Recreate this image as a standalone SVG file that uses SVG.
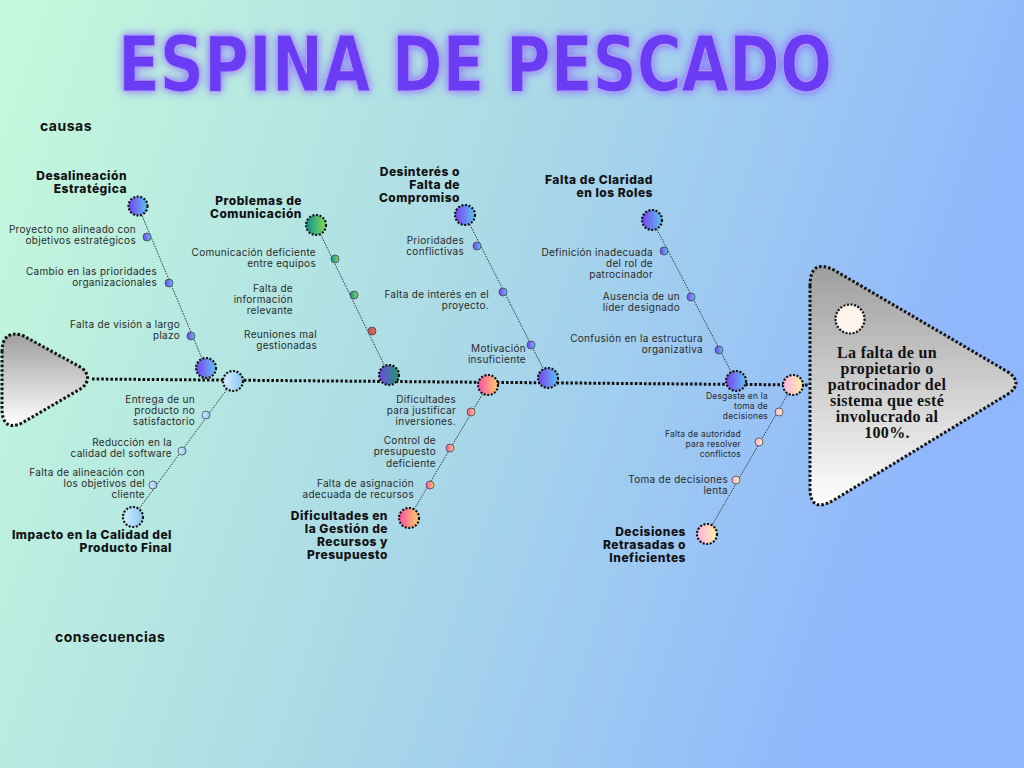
<svg xmlns="http://www.w3.org/2000/svg" width="1024" height="768" viewBox="0 0 1024 768">
<defs>
<linearGradient id="bg" x1="0" y1="0" x2="1" y2="0.25">
<stop offset="0" stop-color="#c5fadb"/>
<stop offset="0.5" stop-color="#acdbe6"/>
<stop offset="1" stop-color="#8fb6fe"/>
</linearGradient>
<linearGradient id="grey" x1="0" y1="0" x2="0" y2="1">
<stop offset="0" stop-color="#9e9e9e"/>
<stop offset="1" stop-color="#ffffff"/>
</linearGradient>
<linearGradient id="gPB" x1="0" y1="0" x2="1" y2="0"><stop offset="0" stop-color="#7a3ff0"/><stop offset="1" stop-color="#5cc4f4"/></linearGradient>
<linearGradient id="gTG" x1="0" y1="0" x2="1" y2="0"><stop offset="0" stop-color="#0e8e8e"/><stop offset="1" stop-color="#86dd55"/></linearGradient>
<linearGradient id="gPG" x1="0" y1="0" x2="1" y2="0"><stop offset="0" stop-color="#7345e6"/><stop offset="1" stop-color="#1f9a6a"/></linearGradient>
<linearGradient id="gLB" x1="0" y1="0" x2="1" y2="0"><stop offset="0" stop-color="#d6efff"/><stop offset="1" stop-color="#8cc6f2"/></linearGradient>
<linearGradient id="gPO" x1="0" y1="0" x2="1" y2="0"><stop offset="0" stop-color="#ff4fa6"/><stop offset="1" stop-color="#ffcf68"/></linearGradient>
<linearGradient id="gPY" x1="0" y1="0" x2="1" y2="0"><stop offset="0" stop-color="#ffb0e2"/><stop offset="1" stop-color="#fff0a8"/></linearGradient>
<linearGradient id="gRed" x1="0" y1="0" x2="1" y2="0"><stop offset="0" stop-color="#c84f55"/><stop offset="1" stop-color="#e06a60"/></linearGradient>
<filter id="glow" x="-10%" y="-40%" width="120%" height="180%">
<feGaussianBlur in="SourceAlpha" stdDeviation="5" result="b"/>
<feFlood flood-color="#7b4dff" flood-opacity="0.8"/>
<feComposite in2="b" operator="in" result="g"/>
<feMerge><feMergeNode in="g"/><feMergeNode in="SourceGraphic"/></feMerge>
</filter>
<style>
.big{stroke:#111;stroke-width:2.2;stroke-dasharray:2 1.6}
.sm{stroke:#445;stroke-width:0.8}
.bone{stroke:#333;stroke-width:1;stroke-dasharray:1.5 1.2;fill:none}
.spine{stroke:#111;stroke-width:3;stroke-dasharray:2.6 2;fill:none}
.shape{stroke:#111;stroke-width:3;stroke-dasharray:2.6 2}
.t{font-family:Inter,"Noto Sans",sans-serif;font-weight:800;font-size:12px;letter-spacing:0.5px;fill:#111;text-anchor:end}
.l{font-family:Inter,"Noto Sans",sans-serif;font-weight:400;font-size:10px;letter-spacing:0.3px;fill:#2a2a2a;text-anchor:end}
.ls{font-family:Inter,"Noto Sans",sans-serif;font-weight:400;font-size:8.5px;letter-spacing:0.2px;fill:#2a2a2a;text-anchor:end}
.sec{font-family:Inter,"Noto Sans",sans-serif;font-weight:700;font-size:14px;letter-spacing:0.5px;fill:#111}
</style>
</defs>
<rect width="1024" height="768" fill="url(#bg)"/>
<text x="475" y="91" text-anchor="middle" font-family="'DejaVu Sans',sans-serif" font-weight="bold" font-size="76" textLength="714" lengthAdjust="spacingAndGlyphs" fill="#6b3cf4" stroke="#b49bff" stroke-width="1.2" filter="url(#glow)">ESPINA DE PESCADO</text>
<text class="sec" x="40" y="131">causas</text>
<text class="sec" x="55" y="642">consecuencias</text>

<g id="head-left">
<path class="shape" d="M 2 352 Q 2 330 22 335 L 82 368 Q 93 378 82 388 L 22 423 Q 2 432 2 408 Z" fill="url(#grey)"/>
</g>

<g id="connectors">
<line class="spine" x1="92" y1="379" x2="808" y2="385"/>
<line class="bone" x1="138" y1="206" x2="206" y2="368"/>
<line class="bone" x1="316" y1="225" x2="389" y2="375"/>
<line class="bone" x1="465" y1="215" x2="548" y2="378"/>
<line class="bone" x1="652" y1="220" x2="736" y2="381"/>
<line class="bone" x1="233" y1="381" x2="133" y2="517"/>
<line class="bone" x1="488" y1="385" x2="409" y2="518"/>
<line class="bone" x1="793" y1="385" x2="707" y2="534"/>
</g>

<g id="effect">
<path class="shape" d="M 810 286 Q 810 258 834 270 L 1008 372 Q 1024 383 1008 394 L 834 500 Q 810 514 810 488 Z" fill="url(#grey)"/>
<circle class="big" cx="850" cy="319" r="14.5" fill="#fff5ec" stroke-width="1.6"/>
<g font-family="'Liberation Serif',serif" font-weight="bold" font-size="16" letter-spacing="0.3" fill="#111" text-anchor="middle">
<text x="887" y="358">La falta de un</text>
<text x="887" y="374">propietario o</text>
<text x="887" y="390">patrocinador del</text>
<text x="887" y="406">sistema que esté</text>
<text x="887" y="422">involucrado al</text>
<text x="887" y="438">100%.</text>
</g>
</g>

<g id="desalineacion">
<circle class="big" cx="138" cy="206" r="9.5" fill="url(#gPB)"/>
<circle class="sm" cx="147" cy="237" r="4" fill="url(#gPB)"/>
<circle class="sm" cx="169" cy="283" r="4" fill="url(#gPB)"/>
<circle class="sm" cx="191" cy="336" r="4" fill="url(#gPB)"/>
<circle class="big" cx="206" cy="368" r="10" fill="url(#gPB)"/>
<text class="t" x="127" y="180">Desalineación</text>
<text class="t" x="127" y="193">Estratégica</text>
<text class="l" x="136" y="233">Proyecto no alineado con</text>
<text class="l" x="136" y="244">objetivos estratégicos</text>
<text class="l" x="157" y="275">Cambio en las prioridades</text>
<text class="l" x="157" y="286">organizacionales</text>
<text class="l" x="180" y="328">Falta de visión a largo</text>
<text class="l" x="180" y="339">plazo</text>
</g>

<g id="comunicacion">
<circle class="big" cx="316" cy="225" r="10" fill="url(#gTG)"/>
<circle class="sm" cx="335" cy="259" r="4" fill="url(#gTG)"/>
<circle class="sm" cx="354" cy="295" r="4" fill="url(#gTG)"/>
<circle class="sm" cx="372" cy="331" r="4" fill="url(#gRed)"/>
<circle class="big" cx="389" cy="375" r="10" fill="url(#gPG)"/>
<text class="t" x="302" y="205">Problemas de</text>
<text class="t" x="302" y="218">Comunicación</text>
<text class="l" x="316" y="256">Comunicación deficiente</text>
<text class="l" x="316" y="267">entre equipos</text>
<text class="l" x="293" y="292" text-anchor="middle">Falta de</text>
<text class="l" x="293" y="303" text-anchor="middle">información</text>
<text class="l" x="293" y="314" text-anchor="middle">relevante</text>
<text class="l" x="317" y="338" text-anchor="middle">Reuniones mal</text>
<text class="l" x="317" y="349" text-anchor="middle">gestionadas</text>
</g>

<g id="desinteres">
<circle class="big" cx="465" cy="215" r="10" fill="url(#gPB)"/>
<circle class="sm" cx="477" cy="246" r="4" fill="url(#gPB)"/>
<circle class="sm" cx="503" cy="292" r="4" fill="url(#gPB)"/>
<circle class="sm" cx="531" cy="345" r="4" fill="url(#gPB)"/>
<circle class="big" cx="548" cy="378" r="10" fill="url(#gPB)"/>
<text class="t" x="460" y="176">Desinterés o</text>
<text class="t" x="460" y="189">Falta de</text>
<text class="t" x="460" y="202">Compromiso</text>
<text class="l" x="464" y="244">Prioridades</text>
<text class="l" x="464" y="255">conflictivas</text>
<text class="l" x="489" y="298">Falta de interés en el</text>
<text class="l" x="489" y="309">proyecto.</text>
<text class="l" x="526" y="352">Motivación</text>
<text class="l" x="526" y="363">insuficiente</text>
</g>

<g id="claridad">
<circle class="big" cx="652" cy="220" r="10" fill="url(#gPB)"/>
<circle class="sm" cx="664" cy="251" r="4" fill="url(#gPB)"/>
<circle class="sm" cx="691" cy="297" r="4" fill="url(#gPB)"/>
<circle class="sm" cx="719" cy="350" r="4" fill="url(#gPB)"/>
<circle class="big" cx="736" cy="381" r="10" fill="url(#gPB)"/>
<text class="t" x="653" y="184">Falta de Claridad</text>
<text class="t" x="653" y="197">en los Roles</text>
<text class="l" x="653" y="256">Definición inadecuada</text>
<text class="l" x="653" y="267">del rol de</text>
<text class="l" x="653" y="278">patrocinador</text>
<text class="l" x="680" y="300">Ausencia de un</text>
<text class="l" x="680" y="311">líder designado</text>
<text class="l" x="703" y="342">Confusión en la estructura</text>
<text class="l" x="703" y="353">organizativa</text>
</g>

<g id="impacto">
<circle class="big" cx="233" cy="381" r="10" fill="url(#gLB)"/>
<circle class="sm" cx="206" cy="415" r="4" fill="url(#gLB)"/>
<circle class="sm" cx="182" cy="451" r="4" fill="url(#gLB)"/>
<circle class="sm" cx="153" cy="485" r="4" fill="url(#gLB)"/>
<circle class="big" cx="133" cy="517" r="10" fill="url(#gLB)"/>
<text class="t" x="172" y="539">Impacto en la Calidad del</text>
<text class="t" x="172" y="552">Producto Final</text>
<text class="l" x="195" y="403">Entrega de un</text>
<text class="l" x="195" y="414">producto no</text>
<text class="l" x="195" y="425">satisfactorio</text>
<text class="l" x="172" y="446">Reducción en la</text>
<text class="l" x="172" y="457">calidad del software</text>
<text class="l" x="145" y="476">Falta de alineación con</text>
<text class="l" x="145" y="487">los objetivos del</text>
<text class="l" x="145" y="498">cliente</text>
</g>

<g id="recursos">
<circle class="big" cx="488" cy="385" r="10" fill="url(#gPO)"/>
<circle class="sm" cx="471" cy="412" r="4" fill="url(#gPO)"/>
<circle class="sm" cx="450" cy="448" r="4" fill="url(#gPO)"/>
<circle class="sm" cx="430" cy="485" r="4" fill="url(#gPO)"/>
<circle class="big" cx="409" cy="518" r="10" fill="url(#gPO)"/>
<text class="t" x="388" y="520">Dificultades en</text>
<text class="t" x="388" y="533">la Gestión de</text>
<text class="t" x="388" y="546">Recursos y</text>
<text class="t" x="388" y="559">Presupuesto</text>
<text class="l" x="456" y="403">Dificultades</text>
<text class="l" x="456" y="414">para justificar</text>
<text class="l" x="456" y="425">inversiones.</text>
<text class="l" x="436" y="444">Control de</text>
<text class="l" x="436" y="455">presupuesto</text>
<text class="l" x="436" y="467">deficiente</text>
<text class="l" x="414" y="487">Falta de asignación</text>
<text class="l" x="414" y="498">adecuada de recursos</text>
</g>

<g id="decisiones">
<circle class="big" cx="793" cy="385" r="10" fill="url(#gPY)"/>
<circle class="sm" cx="779" cy="412" r="4" fill="url(#gPY)"/>
<circle class="sm" cx="759" cy="442" r="4" fill="url(#gPY)"/>
<circle class="sm" cx="736" cy="480" r="4" fill="url(#gPY)"/>
<circle class="big" cx="707" cy="534" r="10" fill="url(#gPY)"/>
<text class="t" x="686" y="536">Decisiones</text>
<text class="t" x="686" y="549">Retrasadas o</text>
<text class="t" x="686" y="562">Ineficientes</text>
<text class="ls" x="768" y="399">Desgaste en la</text>
<text class="ls" x="768" y="409">toma de</text>
<text class="ls" x="768" y="419">decisiones</text>
<text class="ls" x="741" y="437">Falta de autoridad</text>
<text class="ls" x="741" y="447">para resolver</text>
<text class="ls" x="741" y="457">conflictos</text>
<text class="l" x="728" y="483">Toma de decisiones</text>
<text class="l" x="728" y="494">lenta</text>
</g>
</svg>
